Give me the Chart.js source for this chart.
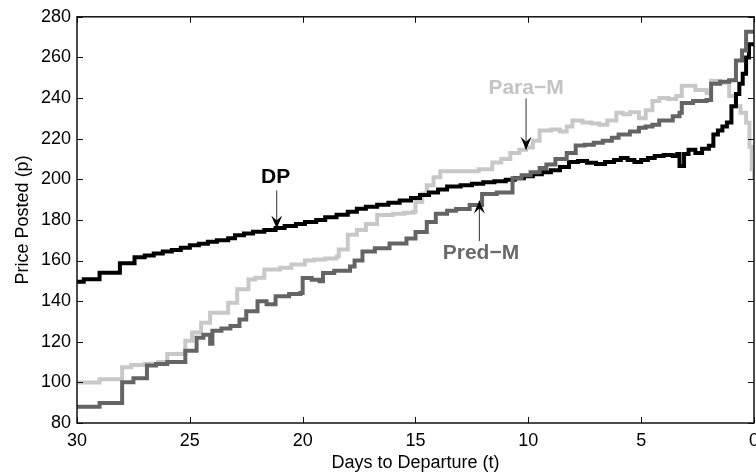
<!DOCTYPE html>
<html>
<head>
<meta charset="utf-8">
<script src="https://cdn.jsdelivr.net/npm/chart.js@4.4.0/dist/chart.umd.min.js"></script>
<style>
html, body { margin: 0; padding: 0; background: #fff; overflow: hidden; }
#wrap { width: 756px; height: 474px; overflow: hidden; position: relative; }
#priceChart { position: absolute; left: 0; top: 0; }
</style>
</head>
<body>
<div id="wrap"><canvas id="priceChart" width="766" height="474"></canvas></div>
<script>
// ticks
const dayTicks = [30, 25, 20, 15, 10, 5, 0];
const priceTicks = [80, 100, 120, 140, 160, 180, 200, 220, 240, 260, 280];

// DP (black)
const dpDays = [30, 29.7, 29.0, 28.1, 27.45, 27.0, 26.6, 26.2, 25.8, 25.4, 25.0, 24.6, 24.2, 23.8, 23.3, 23.0,
    22.6, 22.2, 21.7, 21.2, 20.8, 20.3, 19.9, 19.4, 19.0, 18.5, 18.0, 17.6, 17.2, 16.7, 16.2, 15.7, 15.2,
    14.8, 14.4, 14.0, 13.6, 13.0, 12.5, 12.0, 11.5, 11.0, 10.6, 10.2, 9.8, 9.4, 9.0, 8.6, 8.2, 7.8, 7.4,
    7.0, 6.6, 6.2, 5.9, 5.6, 5.3, 5.0, 4.7, 4.4, 4.0, 3.6, 3.4, 3.3, 3.1, 2.9, 2.6, 2.3, 2.0, 1.8, 1.6,
    1.4, 1.2, 1.0, 0.8, 0.65, 0.5, 0.35, 0.22, 0];
const dpPrice = [149.5, 150.8, 154, 158.7, 161.6, 162.5, 163.5, 164.5, 165.2, 166.3, 167.5, 168.3, 169.2, 170, 171, 172.5,
    173.3, 174.2, 175, 176, 177, 178, 179, 180, 181.3, 182.5, 184, 185.5, 186.5, 187.5, 188.5, 189.5, 190.8,
    192.2, 193.5, 195, 196.5, 197, 197.8, 198.5, 199, 199.8, 200.5, 201.5, 202.5, 203.5, 204.5, 206, 208.5, 209, 208.2,
    207.5, 208.5, 209.5, 210.5, 209.5, 208.5, 209.5, 210.5, 211.5, 212, 211.5, 212.5, 206.5, 212.5, 214.5, 213, 215, 216.5, 222, 224,
    226, 228, 236, 242, 247, 252, 260, 266.5, 266.5];

// Para-M (light grey)
const paraDays = [30, 29.0, 28.0, 27.6, 27.0, 26.4, 26.0, 25.2, 24.9, 24.5, 24.1, 23.3, 22.9, 22.4, 22.1, 21.7,
    21.0, 20.5, 19.9, 19.5, 19.0, 18.5, 18.4, 18.0, 17.6, 17.2, 16.7, 16.0, 15.5, 15.1, 15.0, 14.7, 14.5, 14.2,
    13.9, 12.6, 12.2, 11.6, 11.2, 10.8, 10.4, 10.1, 9.8, 9.5, 9.0, 8.6, 8.3, 8.05, 7.6, 7.2, 6.86, 6.5, 6.1,
    5.8, 5.5, 5.1, 4.8, 4.5, 4.2, 3.8, 3.45, 3.2, 2.6, 2.1, 1.9, 1.5, 1.1, 0.8, 0.6, 0.35, 0.2, 0.1, 0];
const paraPrice = [100, 101.5, 107.5, 108.5, 109.2, 110, 114, 120.5, 124.5, 129.4, 134.3, 139.2, 145.8, 150.7, 151.5, 155.6,
    156.5, 158, 160, 160.5, 161, 162, 165.4, 172.7, 175, 178, 182.4, 183, 183.5, 184, 188.8, 193, 197, 201,
    204, 204, 205, 208.3, 210, 213, 214.5, 215.6, 219, 224, 224.5, 223.5, 226, 229, 228, 227.5, 226.8, 229, 232.7,
    232, 233, 230, 234, 238.5, 240, 239.5, 241, 246, 244, 242.4, 248.5, 247.5, 241, 236, 232.7, 227.8, 216, 205, 200];

// Pred-M (dark grey)
const predDays = [30, 29.0, 28.0, 27.5, 26.9, 26.5, 26.0, 25.2, 24.7, 24.4, 24.1, 24.0, 23.6, 23.2, 22.8, 22.5,
    22.0, 21.6, 21.2, 20.6, 20.1, 20.0, 19.6, 19.25, 19.1, 18.6, 17.9, 17.7, 17.35, 16.8, 16.15, 15.4, 15.0,
    14.5, 14.1, 13.6, 13.2, 12.6, 12.05, 11.4, 10.7, 10.3, 9.9, 9.5, 9.2, 8.8, 8.3, 7.9, 7.5, 7.1, 6.7, 6.3,
    6.0, 5.5, 5.1, 4.8, 4.5, 4.2, 3.6, 3.3, 3.2, 2.7, 2.1, 1.9, 1.5, 1.1, 0.8, 0.53, 0.35, 0];
const predPrice = [88, 89.8, 100.1, 102, 108.3, 109, 110, 115.6, 122, 123.5, 119, 125.4, 126.5, 127.8, 131, 135,
    140, 138.5, 142.4, 143.5, 144, 151.4, 150.5, 149.8, 153.8, 155, 157, 160, 164.4, 166, 168.4, 170.9, 174,
    179, 183, 184.5, 185.4, 187.3, 192.7, 193.5, 200.5, 202, 203.5, 205.5, 207.3, 210, 213, 216.6, 217, 218, 219, 220.5,
    222, 223.5, 225.4, 226, 226.8, 229, 231, 232.7, 237.6, 238.5, 239, 247, 248, 248.8, 258.5, 263.4, 272.7, 272.7];

// text labels with arrows, in data units
const notes = [
    { text: 'DP', color: '#000000', textAt: [21.2, 201], from: [21.15, 194.5], to: [21.15, 175.8] },
    { text: 'Para\u2212M', color: '#c4c4c4', textAt: [10.1, 245], from: [10.1, 239.8], to: [10.1, 214.5] },
    { text: 'Pred\u2212M', color: '#6a6a6a', textAt: [12.1, 163.5], from: [12.17, 169.6], to: [12.17, 189.5] }
];

function toPoints(days, prices) {
    return days.map((d, i) => ({ x: d, y: prices[i] }));
}

function drawArrow(ctx, x1, y1, x2, y2) {
    ctx.strokeStyle = '#333';
    ctx.lineWidth = 1;
    ctx.beginPath();
    ctx.moveTo(x1, y1);
    ctx.lineTo(x2, y2);
    ctx.stroke();
    // arrow head
    const ang = Math.atan2(y2 - y1, x2 - x1);
    const len = 13, half = 5.5, notch = 8;
    const c = Math.cos(ang), s = Math.sin(ang);
    ctx.fillStyle = '#000';
    ctx.beginPath();
    ctx.moveTo(x2, y2);
    ctx.lineTo(x2 - len * c - half * s, y2 - len * s + half * c);
    ctx.lineTo(x2 - notch * c, y2 - notch * s);
    ctx.lineTo(x2 - len * c + half * s, y2 - len * s - half * c);
    ctx.closePath();
    ctx.fill();
}

// box, inward ticks and the labels
const framePlugin = {
    id: 'frame',
    afterDatasetsDraw(chart) {
        const { ctx, chartArea: a, scales: { x, y } } = chart;
        ctx.save();
        ctx.strokeStyle = '#111';
        ctx.lineWidth = 1.5;
        ctx.strokeRect(a.left, a.top, a.right - a.left, a.bottom - a.top);
        ctx.lineWidth = 1;
        ctx.beginPath();
        dayTicks.forEach(v => {
            const px = Math.round(x.getPixelForValue(v)) + 0.5;
            ctx.moveTo(px, a.bottom); ctx.lineTo(px, a.bottom - 6);
            ctx.moveTo(px, a.top); ctx.lineTo(px, a.top + 6);
        });
        priceTicks.forEach(v => {
            const py = Math.round(y.getPixelForValue(v)) + 0.5;
            ctx.moveTo(a.left, py); ctx.lineTo(a.left + 6, py);
            ctx.moveTo(a.right, py); ctx.lineTo(a.right - 6, py);
        });
        ctx.stroke();

        notes.forEach(n => {
            drawArrow(ctx,
                x.getPixelForValue(n.from[0]), y.getPixelForValue(n.from[1]),
                x.getPixelForValue(n.to[0]), y.getPixelForValue(n.to[1]));
            ctx.font = 'bold 21px "Liberation Sans", Arial, sans-serif';
            ctx.fillStyle = n.color;
            ctx.textAlign = 'center';
            ctx.textBaseline = 'middle';
            ctx.fillText(n.text, x.getPixelForValue(n.textAt[0]), y.getPixelForValue(n.textAt[1]));
        });
        ctx.restore();
    }
};

const tickFont = { family: '"Liberation Sans", Arial, sans-serif', size: 18 };

new Chart(document.getElementById('priceChart').getContext('2d'), {
    type: 'line',
    data: {
        datasets: [
            {
                label: 'Pred-M',
                data: toPoints(predDays, predPrice),
                borderColor: '#646464',
                borderWidth: 4,
                stepped: 'before',
                pointRadius: 0,
                order: 0
            },
            {
                label: 'DP',
                data: toPoints(dpDays, dpPrice),
                borderColor: '#000000',
                borderWidth: 4,
                stepped: 'before',
                pointRadius: 0,
                order: 1
            },
            {
                label: 'Para-M',
                data: toPoints(paraDays, paraPrice),
                borderColor: '#c8c8c8',
                borderWidth: 4,
                stepped: 'before',
                pointRadius: 0,
                order: 2
            }
        ]
    },
    options: {
        responsive: false,
        animation: false,
        devicePixelRatio: 1,
        layout: { padding: { top: 13, right: 5, left: 0, bottom: 0 } },
        plugins: {
            legend: { display: false },
            tooltip: { enabled: false }
        },
        scales: {
            x: {
                type: 'linear',
                reverse: true,
                min: 0,
                max: 30,
                grid: { display: false, drawTicks: false },
                border: { display: false },
                afterBuildTicks: scale => { scale.ticks = dayTicks.map(v => ({ value: v })); },
                afterFit: scale => { scale.height = 51; },
                ticks: { color: '#000', font: tickFont, padding: 7, maxRotation: 0, autoSkip: false },
                title: {
                    display: true,
                    text: 'Days to Departure (t)',
                    color: '#000',
                    font: tickFont,
                    padding: { top: 0, bottom: 0 }
                }
            },
            y: {
                min: 80,
                max: 280,
                grid: { display: false, drawTicks: false },
                border: { display: false },
                afterBuildTicks: scale => { scale.ticks = priceTicks.map(v => ({ value: v })); },
                afterFit: scale => { scale.width = 77; },
                ticks: { color: '#000', font: tickFont, padding: 6, autoSkip: false },
                title: {
                    display: true,
                    text: 'Price Posted (p)',
                    color: '#000',
                    font: tickFont,
                    padding: { top: 12, bottom: 0 }
                }
            }
        }
    },
    plugins: [framePlugin]
});
</script>
</body>
</html>
